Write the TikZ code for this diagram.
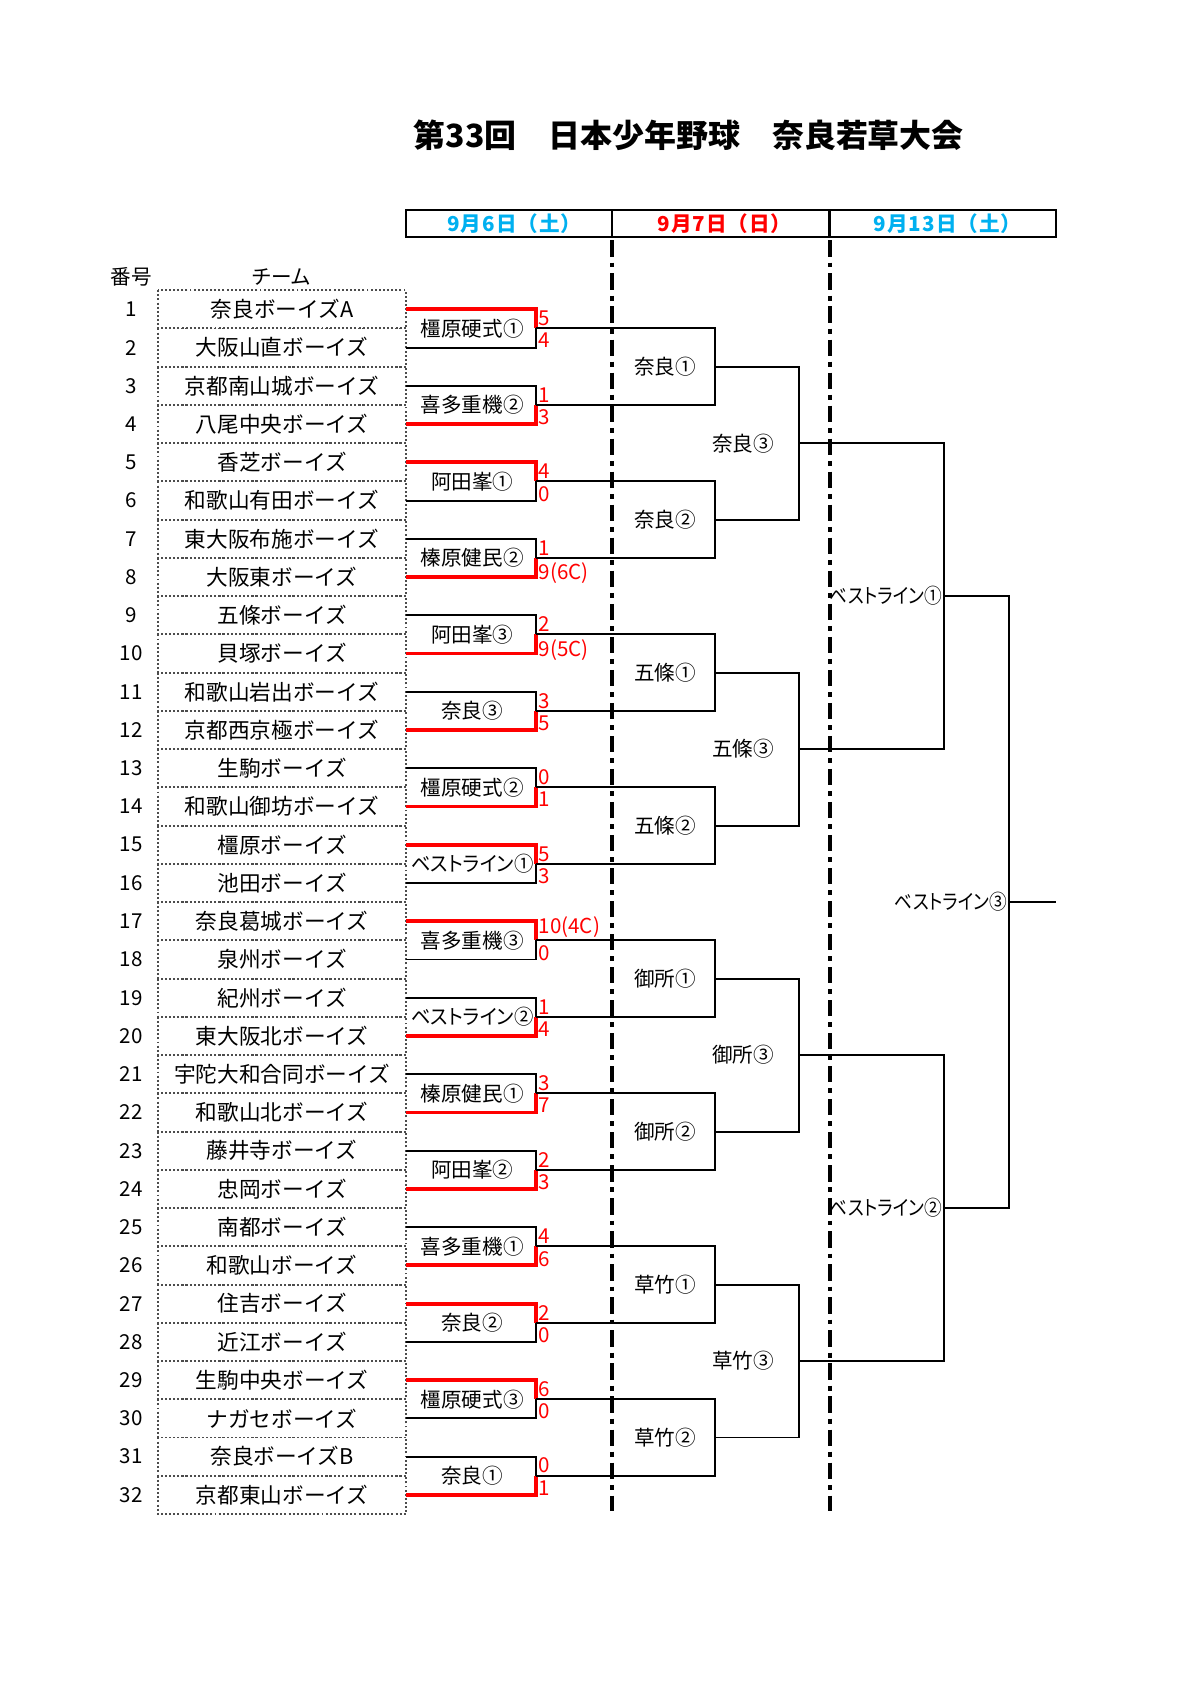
\documentclass[tikz,border=0pt]{standalone}
\usepackage{fontspec}
\setmainfont{Noto Sans CJK JP}
\newfontfamily\pgothic{Noto Sans CJK JP}[RawFeature=+palt]
\newfontfamily\slimgothic{Noto Sans CJK JP}[RawFeature=+palt, FakeStretch=0.94]
\newfontfamily\narrowgothic{Noto Sans CJK JP}[RawFeature=+palt, FakeStretch=0.86]
\usepackage{xcolor}
\definecolor{daysky}{RGB}{0,176,240}
\definecolor{winred}{RGB}{255,0,0}

\begin{document}
\begin{tikzpicture}[x=0.5pt, y=-0.5pt,
    wire/.style={black, line width=0.9pt},
    win/.style={winred, line width=1.8pt},
    cell/.style={black!70, densely dotted, line width=0.9pt},
    dayline/.style={black, line width=1.8pt, dash pattern=on 7.5pt off 2.75pt on 2.25pt off 2.75pt},
    lbl/.style={font=\pgothic\fontsize{9.5}{11}\selectfont, inner sep=0pt},
    teamlbl/.style={font=\fontsize{10}{12}\selectfont, inner sep=0pt},
    widelbl/.style={font=\narrowgothic\fontsize{9.5}{11}\selectfont, inner sep=0pt},
    score/.style={font=\fontsize{9.5}{11}\selectfont, text=winred, inner sep=1pt},
    day/.style={font=\fontsize{9.5}{11}\selectfont\bfseries\addfontfeature{LetterSpace=5}, inner sep=0pt}]
\useasboundingbox (0,0) rectangle (1108,1567);

% Title
\node[font=\fontsize{14.75}{17}\selectfont\bfseries] (title) at (636,125) {第33回　日本少年野球　奈良若草大会};

% Days
\draw[wire, line width=1pt] (375,194) rectangle (975,219);
\draw[wire, line width=1pt] (565,194) -- (565,219) (766,194) -- (766,219);
\node[day, text=daysky] (day1) at (475,207) {9月6日（土）};
\node[day, text=winred] (day2) at (669,207) {9月7日（日）};
\node[day, text=daysky] (day3) at (875,207) {9月13日（土）};
\draw[dayline] (565,222) -- (565,1395);
\draw[dayline] (766,222) -- (766,1395);

% Teams
\node[lbl] (numhead) at (121,256) {番号};
\node[lbl] (teamhead) at (260,256) {チーム};
\foreach \n/\team in {1/奈良ボーイズA, 2/大阪山直ボーイズ, 3/京都南山城ボーイズ, 4/八尾中央ボーイズ,
    5/香芝ボーイズ, 6/和歌山有田ボーイズ, 7/東大阪布施ボーイズ, 8/大阪東ボーイズ,
    9/五條ボーイズ, 10/貝塚ボーイズ, 11/和歌山岩出ボーイズ, 12/京都西京極ボーイズ,
    13/生駒ボーイズ, 14/和歌山御坊ボーイズ, 15/橿原ボーイズ, 16/池田ボーイズ,
    17/奈良葛城ボーイズ, 18/泉州ボーイズ, 19/紀州ボーイズ, 20/東大阪北ボーイズ,
    21/宇陀大和合同ボーイズ, 22/和歌山北ボーイズ, 23/藤井寺ボーイズ, 24/忠岡ボーイズ,
    25/南都ボーイズ, 26/和歌山ボーイズ, 27/住吉ボーイズ, 28/近江ボーイズ,
    29/生駒中央ボーイズ, 30/ナガセボーイズ, 31/奈良ボーイズB, 32/京都東山ボーイズ} {
  \pgfmathsetmacro\y{268+35.3125*(\n-0.5)}
  \draw[cell] (146,\y-17.656) rectangle (375,\y+17.656);
  \node[lbl] (n\n) at (121,\y) {\n};
  \node[teamlbl] (t\n) at (260.5,\y) {\team};
  \coordinate (e\n) at (375,\y);
}

% First round (winner side in red)
\foreach \k/\match/\sa/\sb/\ta/\tb in {1/橿原硬式①/5/4/win/wire, 2/喜多重機②/1/3/wire/win,
    3/阿田峯①/4/0/win/wire, 4/榛原健民②/1/{9(6C)}/wire/win,
    5/阿田峯③/2/{9(5C)}/wire/win, 6/奈良③/3/5/wire/win,
    7/橿原硬式②/0/1/wire/win, 8/{\slimgothic ベストライン①}/5/3/win/wire,
    9/喜多重機③/{10(4C)}/0/win/wire, 10/{\slimgothic ベストライン②}/1/4/wire/win,
    11/榛原健民①/3/7/wire/win, 12/阿田峯②/2/3/wire/win,
    13/喜多重機①/4/6/wire/win, 14/奈良②/2/0/win/wire,
    15/橿原硬式③/6/0/win/wire, 16/奈良①/0/1/wire/win} {
  \pgfmathtruncatemacro\a{2*\k-1}
  \pgfmathtruncatemacro\b{2*\k}
  \pgfmathsetmacro\y{268+35.3125*(2*\k-1)}
  \coordinate (p\k) at (495,\y);
  \node[lbl] (m\k) at (436,\y) {\match};
  \draw[\tb] (e\b) -| (p\k);
  \draw[\ta] (e\a) -| (p\k);
  \node[score, anchor=south west] (sa\k) at (p\k) {\sa};
  \node[score, anchor=north west, yshift=-1pt] (sb\k) at (p\k) {\sb};
}

% Second round
\foreach \j/\match in {1/奈良①, 2/奈良②, 3/五條①, 4/五條②, 5/御所①, 6/御所②, 7/草竹①, 8/草竹②} {
  \pgfmathtruncatemacro\a{2*\j-1}
  \pgfmathtruncatemacro\b{2*\j}
  \pgfmathsetmacro\y{268+35.3125*(4*\j-2)}
  \coordinate (q\j) at (660,\y);
  \draw[wire] (p\a) -| (q\j);
  \draw[wire] (p\b) -| (q\j);
  \node[lbl] (r\j) at (614,\y) {\match};
}

% Third round
\foreach \j/\match in {1/奈良③, 2/五條③, 3/御所③, 4/草竹③} {
  \pgfmathtruncatemacro\a{2*\j-1}
  \pgfmathtruncatemacro\b{2*\j}
  \pgfmathsetmacro\y{268+35.3125*(8*\j-4)}
  \coordinate (s\j) at (738,\y);
  \draw[wire] (q\a) -| (s\j);
  \draw[wire] (q\b) -| (s\j);
  \node[lbl] (g\j) at (686,\y) {\match};
}

% Semi-finals and final
\foreach \j/\match in {1/ベストライン①, 2/ベストライン②} {
  \pgfmathtruncatemacro\a{2*\j-1}
  \pgfmathtruncatemacro\b{2*\j}
  \pgfmathsetmacro\y{268+35.3125*(16*\j-8)}
  \coordinate (u\j) at (872,\y);
  \draw[wire] (s\a) -| (u\j);
  \draw[wire] (s\b) -| (u\j);
  \node[widelbl, anchor=east] (h\j) at (870,\y) {\match};
}
\coordinate (v) at (932,833);
\coordinate (champ) at (975,833);
\draw[wire] (u1) -| (v);
\draw[wire] (u2) -| (v);
\draw[wire] (v) -- (champ);
\node[widelbl, anchor=east] (final) at (930,833) {ベストライン③};
\end{tikzpicture}
\end{document}
